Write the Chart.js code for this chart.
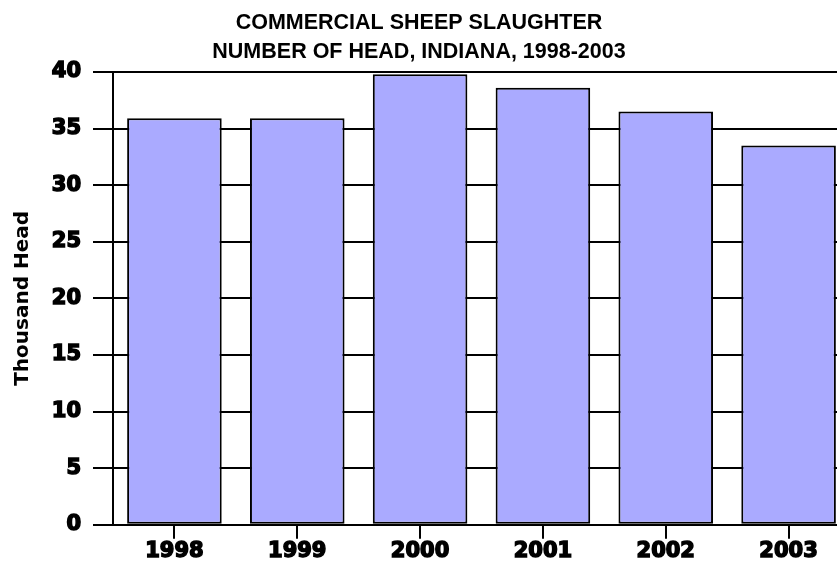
<!DOCTYPE html>
<html>
<head>
<meta charset="utf-8">
<script src="https://cdn.jsdelivr.net/npm/chart.js@4.4.1/dist/chart.umd.min.js"></script>
<style>
body { margin: 0; background: #fff; }
#wrap { width: 837px; height: 569px; overflow: hidden; }
</style>
</head>
<body>
<div id="wrap"><canvas id="myChart" width="850" height="569"></canvas></div>
<script>
'use strict';
// values (thousand head)
var years = ['1998', '1999', '2000', '2001', '2002', '2003'];
var thousandHead = [35.9, 35.9, 39.8, 38.6, 36.5, 33.5];
var titleLines = ['COMMERCIAL SHEEP SLAUGHTER', 'NUMBER OF HEAD, INDIANA, 1998-2003'];
var yTitle = 'Thousand Head';
var yMin = 0;
var yMax = 40;
var yStep = 5;

var tickFont = { family: 'DejaVu Sans', size: 21, weight: 'bold' };

// canvas is a bit wider than the page so the last bar gets cut off like the original
var ctx = document.getElementById('myChart').getContext('2d');
new Chart(ctx, {
  type: 'bar',
  data: {
    labels: years,
    datasets: [
      {
        label: 'Thousand Head',
        data: thousandHead,
        backgroundColor: '#aaaaff',
        borderColor: '#000000',
        borderWidth: 2,
        borderSkipped: false,
        barPercentage: 0.77,
        categoryPercentage: 1
      }
    ]
  },
  options: {
    responsive: false,
    animation: false,
    layout: { padding: { left: -12, right: 0, top: 0, bottom: 5 } },
    plugins: {
      legend: { display: false },
      tooltip: { enabled: false },
      title: {
        display: true,
        text: titleLines,
        color: '#000000',
        font: { family: 'Liberation Sans', size: 21.5, weight: 'bold', lineHeight: 1.37 },
        padding: { top: 8, bottom: 5 }
      }
    },
    scales: {
      x: {
        grid: {
          drawOnChartArea: false,
          offset: false,
          color: '#000000',
          lineWidth: 2,
          tickLength: 14
        },
        border: { display: true, color: '#000000', width: 2 },
        ticks: {
          color: '#000000',
          font: tickFont,
          padding: 0,
          textStrokeColor: '#000000',
          textStrokeWidth: 1.5
        }
      },
      y: {
        min: yMin,
        max: yMax,
        ticks: {
          stepSize: yStep,
          padding: 12,
          color: '#000000',
          font: tickFont,
          textStrokeColor: '#000000',
          textStrokeWidth: 1.5
        },
        grid: { color: '#000000', lineWidth: 2, tickLength: 20 },
        border: { display: true, color: '#000000', width: 2 },
        title: {
          display: true,
          text: yTitle,
          color: '#000000',
          font: { family: 'DejaVu Sans', size: 20, weight: 'bold' },
          padding: { top: 23, bottom: 0 }
        },
        afterFit: function(scale) {
          scale.width = 125;
        }
      }
    }
  }
});
</script>
</body>
</html>
